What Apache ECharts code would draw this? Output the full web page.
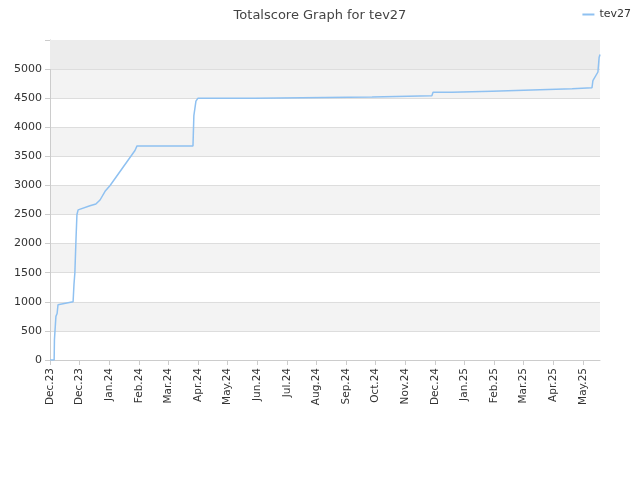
<!DOCTYPE html>
<html><head><meta charset="utf-8">
<script src="https://cdn.jsdelivr.net/npm/echarts@6/dist/echarts.min.js"></script>
<style>html,body{margin:0;padding:0}#c{width:640px;height:480px}</style>
</head><body><div id="c"></div>
<script>
const tickLabels = ['Dec.23','Dec.23','Jan.24','Feb.24','Mar.24','Apr.24','May.24','Jun.24','Jul.24','Aug.24','Sep.24','Oct.24','Nov.24','Dec.24','Jan.25','Feb.25','Mar.25','Apr.25','May.25'];
const monthPos = [0,0.14,0.15,0.2,0.24,0.27,0.78,0.81,0.84,0.88,0.91,0.95,1.01,1.35,1.55,1.69,1.86,2.03,2.87,2.94,4.83,4.86,4.93,5.0,6.93,6.96,10.88,10.91,12.9,12.94,13.58,13.61,14.93,14.97,16.28,16.32,17.64,17.67,18.31,18.34,18.51,18.55,18.58];
const scores = [0,0,350,750,800,950,1000,1300,1500,2100,2500,2580,2600,2650,2680,2750,2900,3000,3600,3680,3680,4200,4450,4500,4500,4520,4520,4540,4540,4600,4600,4620,4620,4640,4640,4660,4660,4680,4680,4800,4950,5200,5250];
const chart = echarts.init(document.getElementById('c'));
chart.setOption({
  animation:false,
  title:{text:'Totalscore Graph for tev27',left:'center',top:4,textStyle:{fontSize:13,fontWeight:'normal',color:'#444',fontFamily:'DejaVu Sans'}},
  legend:{right:4,top:4,itemWidth:12,itemHeight:2,icon:'rect',textStyle:{fontSize:11,color:'#333',fontFamily:'DejaVu Sans'},data:['tev27']},
  grid:{left:50,right:40,top:40,bottom:120},
  xAxis:{type:'value',min:0,max:18.58,interval:1,
    axisLine:{lineStyle:{color:'#ccc'}},axisTick:{show:true,lineStyle:{color:'#ccc'}},splitLine:{show:false},
    axisLabel:{rotate:90,fontSize:10.5,color:'#333',fontFamily:'DejaVu Sans',showMaxLabel:false,formatter:v=>tickLabels[Math.round(v)]||''}},
  yAxis:{type:'value',min:0,max:5500,interval:500,
    axisLine:{show:true,lineStyle:{color:'#ccc'}},axisTick:{show:true,lineStyle:{color:'#ccc'}},
    splitLine:{lineStyle:{color:'#ddd'}},
    splitArea:{show:true,areaStyle:{color:['#ffffff','#f3f3f3']}},
    axisLabel:{fontSize:11,color:'#333',fontFamily:'DejaVu Sans',formatter:v=>v===5500?'':v}},
  series:[{name:'tev27',type:'line',symbol:'none',
    lineStyle:{color:'#8fc1f1',width:1.5},itemStyle:{color:'#8fc1f1'},
    data:monthPos.map((m,i)=>[m,scores[i]]),
    markArea:{silent:true,itemStyle:{color:'#ececec'},data:[[{yAxis:5000},{yAxis:5500}]]}}]
});
</script></body></html>
